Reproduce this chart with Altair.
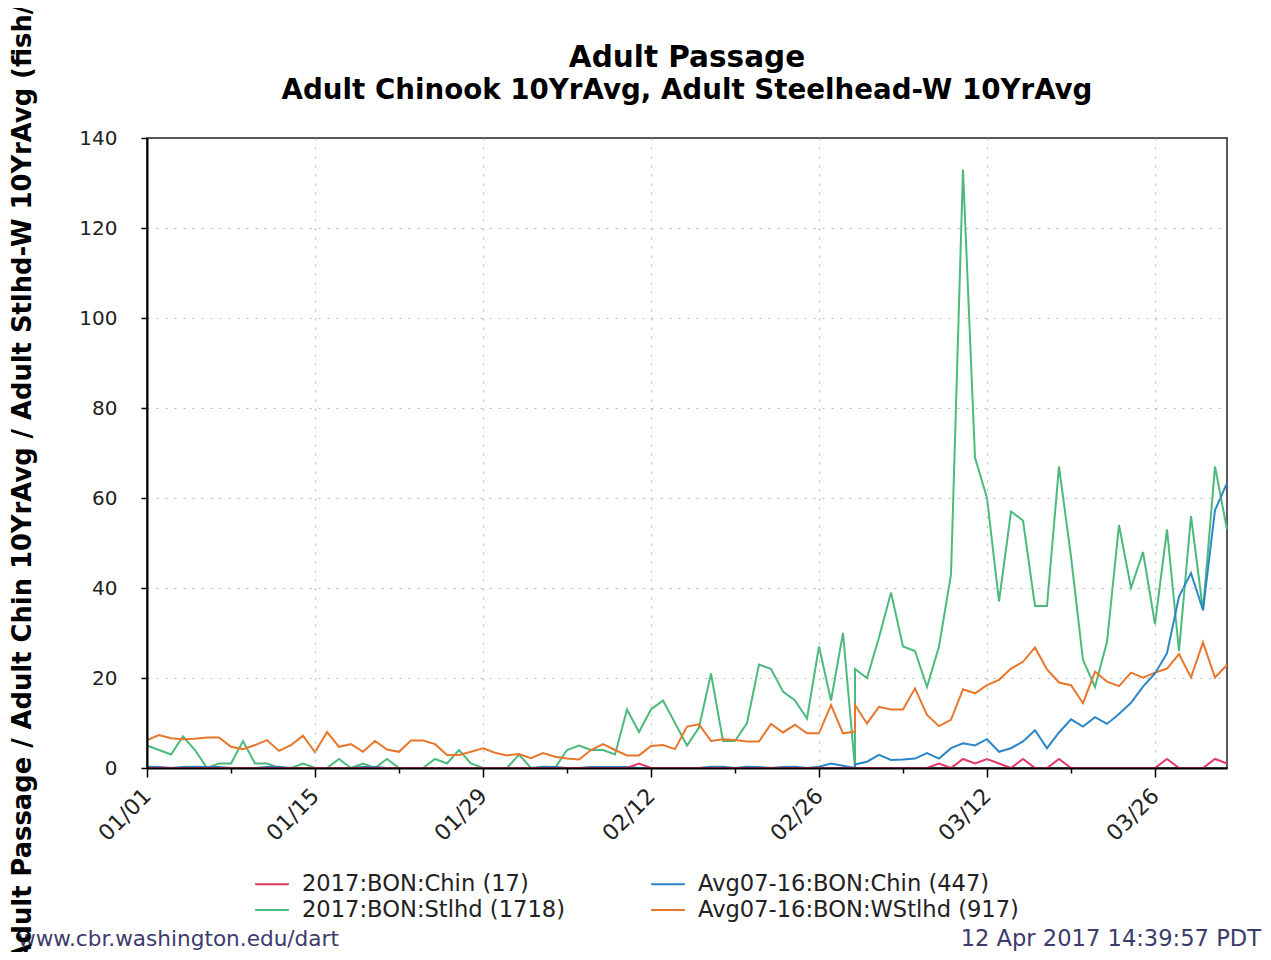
import altair as alt
import pandas as pd

# ---------------- data ----------------
start_date = "2017-01-01"
n_days = 91          # 01/01 .. 04/01
dup_day = 59         # 03/01 slot appears twice (leap-day slot of the averages)

# d0..d58, d59a, d59b, d60..d90
stlhd_2017 = [5, 4, 3, 7, 4, 0, 1, 1, 6, 1,
              1, 0, 0, 1, 0, 0, 2, 0, 1, 0,
              2, 0, 0, 0, 2, 1, 4, 1, 0, 0,
              0, 3, 0, 0, 0, 4, 5, 4, 4, 3,
              13, 8, 13, 15, 10, 5, 9, 21, 6, 6,
              10, 23, 22, 17, 15, 11, 27, 15, 30,
              0, 22,
              20, 29, 39, 27, 26, 18, 27, 43, 133, 69,
              60, 37, 57, 55, 36, 36, 67, 47, 24, 18,
              28, 54, 40, 48, 32, 53, 26, 56, 35, 67, 53]

wstlhd_avg = [6.2, 7.3, 6.6, 6.4, 6.5, 6.8, 6.8, 4.7, 4.2, 5.1,
              6.2, 3.8, 5.1, 7.2, 3.5, 8.0, 4.7, 5.3, 3.6, 6.0,
              4.1, 3.6, 6.1, 6.1, 5.3, 2.9, 2.9, 3.6, 4.4, 3.4,
              2.8, 3.1, 2.2, 3.3, 2.5, 2.1, 1.9, 4.0, 5.3, 4.0,
              2.8, 2.8, 4.9, 5.1, 4.2, 9.2, 9.7, 6.0, 6.4, 6.2,
              5.9, 5.9, 9.8, 7.9, 9.6, 7.7, 7.7, 14.0, 7.7,
              8.1, 14.0,
              9.9, 13.6, 13.0, 13.0, 17.7, 11.8, 9.3, 10.7, 17.5, 16.6,
              18.4, 19.6, 22.1, 23.6, 26.8, 21.9, 19.0, 18.4, 14.4, 21.4,
              19.2, 18.2, 21.2, 20.1, 21.2, 22.1, 25.3, 20.1, 27.9, 20.1, 22.9]

chin_avg = [0.3, 0.2, 0, 0.2, 0.3, 0.2, 0.2, 0, 0, 0,
            0.2, 0.3, 0, 0, 0, 0, 0, 0, 0.2, 0.2,
            0, 0, 0, 0, 0, 0, 0, 0, 0, 0,
            0, 0, 0, 0.3, 0.2, 0, 0, 0.2, 0.2, 0.2,
            0.2, 0, 0, 0, 0, 0, 0, 0.3, 0.3, 0,
            0.3, 0.2, 0, 0.2, 0.3, 0, 0.3, 1.0, 0.5,
            0.0, 0.8,
            1.4, 2.9, 1.8, 1.9, 2.1, 3.3, 2.1, 4.4, 5.5, 5.0,
            6.4, 3.6, 4.4, 5.9, 8.4, 4.4, 7.9, 10.8, 9.2, 11.3,
            9.8, 12.0, 14.5, 18.1, 21.0, 25.5, 38.1, 43.3, 35.1, 57.3, 63.3]

chin_2017 = [0, 0, 0, 0, 0, 0, 0, 0, 0, 0,
             0, 0, 0, 0, 0, 0, 0, 0, 0, 0,
             0, 0, 0, 0, 0, 0, 0, 0, 0, 0,
             0, 0, 0, 0, 0, 0, 0, 0, 0, 0,
             0, 1, 0, 0, 0, 0, 0, 0, 0, 0,
             0, 0, 0, 0, 0, 0, 0, 0, 0,
             0, 0,
             0, 0, 0, 0, 0, 0, 1, 0, 2, 1,
             2, 1, 0, 2, 0, 0, 2, 0, 0, 0,
             0, 0, 0, 0, 0, 2, 0, 0, 0, 2, 1]

# legend order (two columns, filled column by column)
series_names = ["2017:BON:Chin (17)", "2017:BON:Stlhd (1718)",
                "Avg07-16:BON:Chin (447)", "Avg07-16:BON:WStlhd (917)"]
series_colors = ["#e23a66", "#4cba7c", "#2b86c8", "#e8762c"]

chart_title = "Adult Passage"
chart_subtitle = "Adult Chinook 10YrAvg, Adult Steelhead-W 10YrAvg"
y_title = "Adult Passage / Adult Chin 10YrAvg / Adult Stlhd-W 10YrAvg (fish/day)"
y_ticks = [0, 20, 40, 60, 80, 100, 120, 140]
footer_left = "www.cbr.washington.edu/dart"
footer_right = "12 Apr 2017 14:39:57 PDT"

# ---------------- table ----------------
dates = list(pd.date_range(start_date, periods=n_days, freq="D").strftime("%Y-%m-%d"))
dates = dates[:dup_day] + [dates[dup_day]] + dates[dup_day:]

# draw order: steelhead, avg steelhead, avg chinook, chinook
draw = [(series_names[1], stlhd_2017), (series_names[3], wstlhd_avg),
        (series_names[2], chin_avg), (series_names[0], chin_2017)]
rows = []
for s, vals in draw:
    for i, (d, v) in enumerate(zip(dates, vals)):
        rows.append({"date": d, "seq": i, "series": s, "value": v})
df = pd.DataFrame(rows)

def ms(s):
    return int(pd.Timestamp(s, tz="UTC").value // 10**6)

x_dom = [ms("2017-01-01"), ms("2017-04-01")]
week_vals = [ms(d) for d in pd.date_range("2017-01-01", "2017-03-31", freq="7D").strftime("%Y-%m-%d")]
major_test = "(datum.value - utc(2017,0,1)) % 1209600000 === 0"

FONT = "DejaVu Sans"

lines = alt.Chart(df).mark_line(strokeWidth=2).encode(
    x=alt.X("date:T",
            scale=alt.Scale(type="utc", domain=x_dom),
            axis=alt.Axis(values=week_vals,
                          labelExpr=f"{major_test} ? utcFormat(datum.value, '%m/%d') : ''",
                          labelAngle=-45, labelAlign="right", labelBaseline="middle",
                          labelFontSize=22, labelPadding=15,
                          tickSize={"condition": {"test": major_test, "value": 9}, "value": 5},
                          gridOpacity={"condition": {"test": major_test, "value": 1}, "value": 0},
                          title=None, zindex=1)),
    y=alt.Y("value:Q",
            scale=alt.Scale(domain=[0, 140], nice=False),
            axis=alt.Axis(values=y_ticks, labelFontSize=20, tickSize=6, labelPadding=24,
                          gridOpacity={"condition": {"test": "datum.value < 140", "value": 1}, "value": 0},
                          title=y_title, titleFontSize=25.8, titleFontWeight="bold",
                          titleAngle=270, titleAlign="left", titleBaseline="middle",
                          titleX=-125, titleY=825, zindex=1)),
    color=alt.Color("series:N",
                    scale=alt.Scale(domain=series_names, range=series_colors),
                    legend=alt.Legend(orient="none", legendX=111, legendY=732, columns=2,
                                      title=None, symbolType="M-1.3,0H1.3", symbolSize=676,
                                      symbolStrokeWidth=2, labelFontSize=22.6, labelFont=FONT,
                                      labelOffset=16, columnPadding=82, rowPadding=0,
                                      labelLimit=600, labelColor="#222")),
    order="seq:Q",
)

title_l1 = alt.Chart(pd.DataFrame({"t": [chart_title]})).mark_text(
    align="center", baseline="alphabetic", fontSize=29.5, fontWeight="bold", font=FONT, color="black"
).encode(x=alt.value(540), y=alt.value(-71), text="t:N")

title_l2 = alt.Chart(pd.DataFrame({"t": [chart_subtitle]})).mark_text(
    align="center", baseline="alphabetic", fontSize=27.7, fontWeight="bold", font=FONT, color="black"
).encode(x=alt.value(540), y=alt.value(-39), text="t:N")

foot_l = alt.Chart(pd.DataFrame({"t": [footer_left]})).mark_text(
    align="left", baseline="alphabetic", fontSize=21.6, font=FONT, color="#3c3c6c"
).encode(x=alt.value(-129), y=alt.value(808), text="t:N")

foot_r = alt.Chart(pd.DataFrame({"t": [footer_right]})).mark_text(
    align="right", baseline="alphabetic", fontSize=22.6, font=FONT, color="#3c3c6c"
).encode(x=alt.value(1114), y=alt.value(808), text="t:N")

chart = alt.layer(lines, title_l1, title_l2, foot_l, foot_r).properties(
    width=1080, height=630,
    autosize=alt.AutoSizeParams(type="none"),
    padding={"left": 139, "top": 130, "right": 36, "bottom": 184},
).configure_view(stroke="#222", strokeWidth=1.5).configure_axis(
    labelFont=FONT, titleFont=FONT, labelColor="#222", titleColor="black",
    domainColor="black", domainWidth=2, tickColor="black", tickWidth=1.5,
    gridColor="#b8b8b8", gridDash=[2, 7], gridWidth=1.2,
)

chart.save("out.html", embed_options={"renderer": "svg", "actions": False})
